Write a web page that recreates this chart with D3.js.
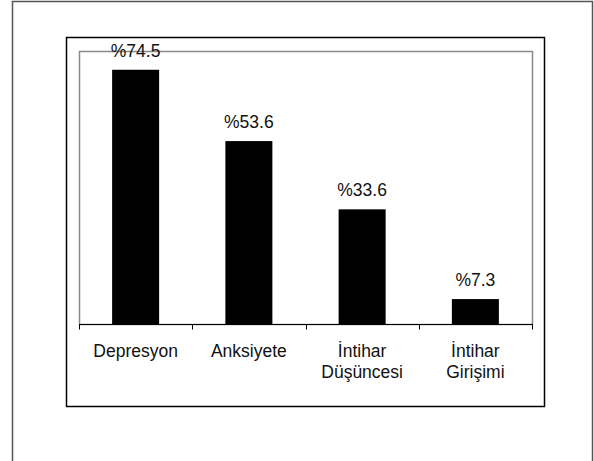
<!DOCTYPE html>
<html>
<head>
<meta charset="utf-8">
<script src="https://cdn.jsdelivr.net/npm/d3@7"></script>
<style>
  body { margin: 0; background: #fff; }
  text { font-family: "Liberation Sans", Arial, sans-serif; fill: #111; }
</style>
</head>
<body>
<svg width="594" height="461"></svg>
<script>
// kategoriler (iki satırlı etiketler dizi olarak)
const categories = ["Depresyon", "Anksiyete", "İntihar Düşüncesi", "İntihar Girişimi"];
const labelLines = [["Depresyon"], ["Anksiyete"], ["İntihar", "Düşüncesi"], ["İntihar", "Girişimi"]];
const values = [74.5, 53.6, 33.6, 7.3];
const valueLabels = ["%74.5", "%53.6", "%33.6", "%7.3"];

const svg = d3.select("svg");

// dış çerçeve (alt kenar görünmüyor)
svg.append("rect")
  .attr("x", 12.5).attr("y", 1.5)
  .attr("width", 580).attr("height", 480)
  .attr("fill", "none").attr("stroke", "#555").attr("stroke-width", 1.5);

// grafik çerçevesi
svg.append("rect")
  .attr("x", 66.5).attr("y", 37.5)
  .attr("width", 478).attr("height", 369)
  .attr("fill", "none").attr("stroke", "#000").attr("stroke-width", 1.5);

const plotLeft = 79, plotRight = 532, plotTop = 51, plotBottom = 324;

const xScale = d3.scaleBand().domain(categories).range([plotLeft, plotRight]).paddingInner(0.585).paddingOuter(0.2925);
const yScale = d3.scaleLinear().domain([0, 80]).range([plotBottom, plotTop]);

// çizim alanı (gri)
svg.append("rect")
  .attr("x", plotLeft + 0.5).attr("y", plotTop + 0.5)
  .attr("width", plotRight - plotLeft).attr("height", plotBottom - plotTop)
  .attr("fill", "none").attr("stroke", "#8a8a8a").attr("stroke-width", 1.5);

// çubuklar
svg.selectAll(".bar")
  .data(values)
  .enter()
  .append("rect")
  .attr("class", "bar")
  .attr("x", (d, i) => xScale(categories[i]))
  .attr("y", d => yScale(d))
  .attr("width", xScale.bandwidth())
  .attr("height", d => yScale(0) - yScale(d))
  .attr("fill", "#000");

// x ekseni
const xTicks = d3.scaleLinear().domain([0, categories.length]).range([plotLeft, plotRight]);
const axisG = svg.append("g").attr("transform", `translate(0,${plotBottom + 0.5})`);
axisG.append("line")
  .attr("x1", plotLeft).attr("x2", plotRight + 1)
  .attr("stroke", "#000").attr("stroke-width", 1.2);
axisG.selectAll(".tick")
  .data(d3.range(categories.length + 1))
  .enter()
  .append("line")
  .attr("x1", d => Math.round(xTicks(d)) + 0.5)
  .attr("x2", d => Math.round(xTicks(d)) + 0.5)
  .attr("y1", 0).attr("y2", 5)
  .attr("stroke", "#000");

// kategori etiketleri
labelLines.forEach((lines, i) => {
  const cx = xScale(categories[i]) + xScale.bandwidth() / 2;
  lines.forEach((l, j) => {
    svg.append("text")
      .attr("x", cx)
      .attr("y", 357 + j * 21)
      .attr("text-anchor", "middle")
      .attr("font-size", "17.5px")
      .text(l);
  });
});

// değer etiketleri
svg.selectAll(".val")
  .data(values)
  .enter()
  .append("text")
  .attr("class", "val")
  .attr("x", (d, i) => xScale(categories[i]) + xScale.bandwidth() / 2)
  .attr("y", d => yScale(d) - 13)
  .attr("text-anchor", "middle")
  .attr("font-size", "17.5px")
  .text((d, i) => valueLabels[i]);
</script>
</body>
</html>
